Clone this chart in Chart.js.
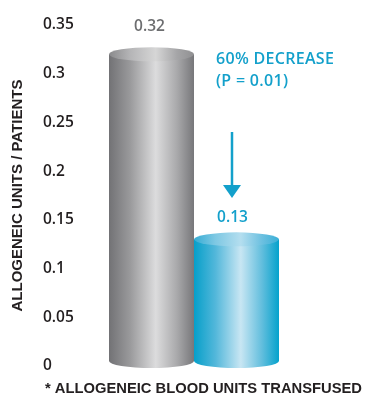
<!DOCTYPE html>
<html>
<head>
<meta charset="utf-8">
<script src="https://cdn.jsdelivr.net/npm/chart.js@4/dist/chart.umd.min.js"></script>
<style>
  html, body { margin: 0; padding: 0; background: #fff; }
  #wrap { width: 367px; height: 397px; position: relative; }
</style>
</head>
<body>
<div id="wrap"><canvas id="chart1"></canvas></div>
<script>
const categories = ['Control', 'Treatment'];
const unitsPerPatient = [0.32, 0.13];
const valueLabels = ['0.32', '0.13'];
const tickValues = [0, 0.05, 0.1, 0.15, 0.2, 0.25, 0.3, 0.35];
const tickLabels = ['0', '0.05', '0.1', '0.15', '0.2', '0.25', '0.3', '0.35'];
const axisTitle = 'ALLOGENEIC UNITS / PATIENTS';
const footnote = '* ALLOGENEIC BLOOD UNITS TRANSFUSED';
const noteLines = ['60% DECREASE', '(P = 0.01)'];

const BLUE = '#13a0cb';
const DARK = '#231f20';
const LABEL_FONT = '600 15.5px "Open Sans"';

// body + cap colour stops for each cylinder
const bodyStops = [
    ['#727275', '#9a9a9c', '#dcdcdd', '#a9a9ab', '#77777a'],
    ['#069fc9', '#52b7da', '#c8e6f3', '#62bedd', '#05a2cc']
];
const capStops = [
    ['#8a8a8c', '#b5b5b7', '#d6d6d6', '#a5a5a7', '#909092'],
    ['#35acd4', '#7ec8e3', '#b4deef', '#6cc0e0', '#3aafd7']
];

function hGrad(ctx, x0, x1, stops) {
    const g = ctx.createLinearGradient(x0, 0, x1, 0);
    const pos = [0, 0.25, 0.55, 0.8, 1];
    stops.forEach((c, i) => g.addColorStop(pos[i], c));
    return g;
}

const cylinders = {
    id: 'cylinders',
    afterDatasetsDraw(chart) {
        const ctx = chart.ctx;
        const meta = chart.getDatasetMeta(0);
        const ry = 7;
        meta.data.forEach((bar, i) => {
            const left = bar.x - bar.width / 2;
            const right = bar.x + bar.width / 2;
            const rx = bar.width / 2;
            const top = bar.y;
            const bottom = bar.base - 5;
            ctx.save();
            // body with rounded bottom
            ctx.beginPath();
            ctx.moveTo(left, top);
            ctx.lineTo(left, bottom);
            ctx.ellipse(bar.x, bottom, rx, ry, 0, Math.PI, 0, true);
            ctx.lineTo(right, top);
            ctx.closePath();
            ctx.fillStyle = hGrad(ctx, left, right, bodyStops[i]);
            ctx.fill();
            // top cap
            ctx.beginPath();
            ctx.ellipse(bar.x, top, rx, ry, 0, 0, Math.PI * 2);
            ctx.fillStyle = hGrad(ctx, left, right, capStops[i]);
            ctx.fill();
            ctx.restore();
        });
    }
};

const annotations = {
    id: 'annotations',
    afterDraw(chart) {
        const ctx = chart.ctx;
        const meta = chart.getDatasetMeta(0);
        const grey = meta.data[0];
        const blue = meta.data[1];
        ctx.save();
        ctx.textBaseline = 'middle';
        ctx.textAlign = 'center';
        ctx.font = LABEL_FONT;
        ctx.fillStyle = '#6d6e70';
        ctx.fillText(valueLabels[0], grey.x - 2, grey.y - 28);
        ctx.fillStyle = BLUE;
        ctx.fillText(valueLabels[1], blue.x - 4, blue.y - 22);

        // decrease note
        ctx.textAlign = 'left';
        ctx.font = '600 16px "Open Sans"';
        ctx.letterSpacing = '0.3px';
        const noteX = blue.x - blue.width / 2 + 22;
        ctx.fillText(noteLines[0], noteX, 59, 120);
        ctx.fillText(noteLines[1], noteX, 81);
        ctx.letterSpacing = '0px';

        // arrow
        const ax = blue.x - 4.5;
        ctx.strokeStyle = BLUE;
        ctx.lineWidth = 2.5;
        ctx.beginPath();
        ctx.moveTo(ax, 132);
        ctx.lineTo(ax, 188);
        ctx.stroke();
        ctx.beginPath();
        ctx.moveTo(ax - 9, 185);
        ctx.lineTo(ax + 9, 185);
        ctx.lineTo(ax, 198);
        ctx.closePath();
        ctx.fill();

        // axis title
        ctx.fillStyle = DARK;
        ctx.font = 'bold 15px "Liberation Sans"';
        ctx.textAlign = 'center';
        ctx.translate(18, (chart.chartArea.top + chart.chartArea.bottom) / 2);
        ctx.rotate(-Math.PI / 2);
        ctx.fillText(axisTitle, 0, 0);
        ctx.restore();

        // footnote
        ctx.save();
        ctx.fillStyle = DARK;
        ctx.font = 'bold 15px "Liberation Sans"';
        ctx.textAlign = 'left';
        ctx.textBaseline = 'middle';
        ctx.fillText(footnote, 45, 389, 317);
        ctx.restore();
    }
};

new Chart(document.getElementById('chart1'), {
    type: 'bar',
    data: {
        labels: categories,
        datasets: [{
            data: unitsPerPatient,
            backgroundColor: 'rgba(0,0,0,0)',
            borderWidth: 0,
            categoryPercentage: 1,
            barPercentage: 1
        }]
    },
    options: {
        responsive: true,
        maintainAspectRatio: false,
        animation: false,
        devicePixelRatio: 1,
        layout: { padding: { left: 43, right: 88, top: 25, bottom: 31 } },
        plugins: {
            legend: { display: false },
            tooltip: { enabled: false }
        },
        scales: {
            x: { display: false },
            y: {
                min: 0,
                max: 0.35,
                afterFit(scale) { scale.width = 66; },
                afterBuildTicks(scale) {
                    scale.ticks = tickValues.map(v => ({ value: v }));
                },
                grid: { display: false },
                border: { display: false },
                ticks: {
                    crossAlign: 'far',
                    color: DARK,
                    font: { family: '"Open Sans"', size: 15.5, weight: '600' },
                    callback: (v, i) => tickLabels[i]
                }
            }
        }
    },
    plugins: [cylinders, annotations]
});
</script>
</body>
</html>
